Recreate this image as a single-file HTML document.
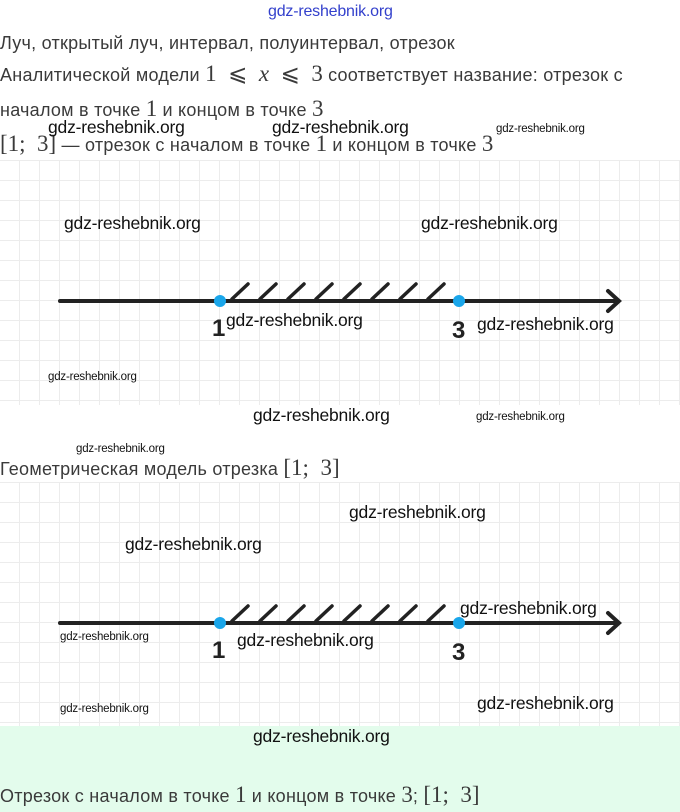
<!DOCTYPE html>
<html><head><meta charset="utf-8"><style>
body{margin:0;width:680px;height:812px;position:relative;background:#fff;overflow:hidden;font-family:"Liberation Sans",sans-serif;color:#3a3a3a}
.t{position:absolute;left:0;font-size:18px;letter-spacing:0.25px;white-space:nowrap}
.m{font-family:"Liberation Serif",serif;font-size:23px;letter-spacing:0}
.w{position:absolute;font-family:"Liberation Sans",sans-serif;color:#111;white-space:nowrap;letter-spacing:-0.2px}
.b{font-size:17.5px}
.s{font-size:11.5px}
.grid{position:absolute;left:0;width:680px;background-image:linear-gradient(#ececec 1px,transparent 1px),linear-gradient(90deg,#ececec 1px,transparent 1px);background-size:20px 20px;background-position:-1px 0}
</style></head><body>
<div class="w" style="left:268px;top:3px;font-size:16px;color:#3340cc">gdz-reshebnik.org</div>
<div class="t" style="top:33px">Луч, открытый луч, интервал, полуинтервал, отрезок</div>
<div class="t" style="top:61px">Аналитической модели <span class="m">1 &nbsp;⩽ &nbsp;<i>x</i> &nbsp;⩽ &nbsp;3</span> соответствует название: отрезок с</div>
<div class="t" style="top:96px">началом в точке <span class="m">1</span> и концом в точке <span class="m">3</span></div>
<div class="t" style="top:131px"><span class="m">[1; &nbsp;3]</span> — отрезок с началом в точке <span class="m">1</span> и концом в точке <span class="m">3</span></div>

<div class="grid" style="top:160px;height:245px"></div>
<div class="grid" style="top:482px;height:244px"></div>
<div style="position:absolute;left:0;top:726px;width:680px;height:86px;background:#e3fcec"></div>

<svg width="680" height="812" style="position:absolute;left:0;top:0">
<g stroke="#222" stroke-width="4" fill="none" stroke-linecap="round">
<line x1="60" y1="301" x2="618" y2="301"/><polyline points="608,291 619,301 608,311"/>
<line x1="60" y1="623" x2="618" y2="623"/><polyline points="608,613 619,623 608,633"/>
</g>
<g stroke="#222" stroke-width="3.5" stroke-linecap="round">
<path d="M232 299 L248 284 M260 299 L276 284 M288 299 L304 284 M316 299 L332 284 M344 299 L360 284 M372 299 L388 284 M400 299 L416 284 M428 299 L444 284"/>
<path d="M232 621 L248 606 M260 621 L276 606 M288 621 L304 606 M316 621 L332 606 M344 621 L360 606 M372 621 L388 606 M400 621 L416 606 M428 621 L444 606"/>
</g>
<g fill="#1aa6ea"><circle cx="220" cy="301" r="6"/><circle cx="459" cy="301" r="6"/><circle cx="220" cy="623" r="6"/><circle cx="459" cy="623" r="6"/></g>
<g font-family="Liberation Sans" font-size="24" font-weight="bold" fill="#222">
<text x="212" y="336">1</text><text x="452" y="338">3</text>
<text x="212" y="658">1</text><text x="452" y="660">3</text>
</g>
</svg>

<div class="t" style="top:455px">Геометрическая модель отрезка <span class="m">[1; &nbsp;3]</span></div>
<div class="t" style="top:782px">Отрезок с началом в точке <span class="m">1</span> и концом в точке <span class="m">3</span>; <span class="m">[1; &nbsp;3]</span></div>

<div class="w b" style="left:48px;top:117px">gdz-reshebnik.org</div>
<div class="w b" style="left:272px;top:117px">gdz-reshebnik.org</div>
<div class="w s" style="left:496px;top:123px">gdz-reshebnik.org</div>
<div class="w b" style="left:64px;top:213px">gdz-reshebnik.org</div>
<div class="w b" style="left:421px;top:213px">gdz-reshebnik.org</div>
<div class="w b" style="left:226px;top:310px">gdz-reshebnik.org</div>
<div class="w b" style="left:477px;top:314px">gdz-reshebnik.org</div>
<div class="w s" style="left:48px;top:371px">gdz-reshebnik.org</div>
<div class="w b" style="left:253px;top:405px">gdz-reshebnik.org</div>
<div class="w s" style="left:476px;top:411px">gdz-reshebnik.org</div>
<div class="w s" style="left:76px;top:443px">gdz-reshebnik.org</div>
<div class="w b" style="left:349px;top:502px">gdz-reshebnik.org</div>
<div class="w b" style="left:125px;top:534px">gdz-reshebnik.org</div>
<div class="w b" style="left:460px;top:598px">gdz-reshebnik.org</div>
<div class="w s" style="left:60px;top:631px">gdz-reshebnik.org</div>
<div class="w b" style="left:237px;top:630px">gdz-reshebnik.org</div>
<div class="w b" style="left:477px;top:693px">gdz-reshebnik.org</div>
<div class="w s" style="left:60px;top:703px">gdz-reshebnik.org</div>
<div class="w b" style="left:253px;top:726px">gdz-reshebnik.org</div>
</body></html>
